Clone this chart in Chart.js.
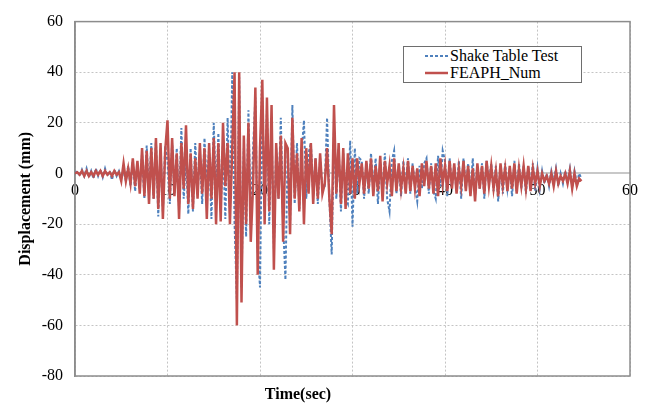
<!DOCTYPE html>
<html>
<head>
<meta charset="utf-8">
<script src="https://cdn.jsdelivr.net/npm/chart.js@4.4.1/dist/chart.umd.min.js"></script>
<style>
html, body { margin: 0; background: #fff; }
#wrap { position: relative; width: 650px; height: 410px; }
#legend { position: absolute; left: 403px; top: 46px; width: 179px; height: 37px; box-sizing: border-box;
          border: 1px solid #6e6e6e; background: #fff; font-family: "Liberation Serif", serif; }
#legend .row { display: flex; align-items: center; height: 17px; font-size: 16px; color: #000; white-space: nowrap; }
#legend svg { margin-left: 21px; margin-right: 2px; }
#xtitle { position: absolute; left: 238px; width: 120px; top: 385px; text-align: center; font-weight: bold;
          font-size: 16px; color: #000; font-family: "Liberation Serif", serif; }
</style>
</head>
<body>
<div id="wrap">
    <canvas id="chart" width="650" height="410"></canvas>
    <div id="legend"></div>
    <div id="xtitle">Time(sec)</div>
</div>
<script>
// Displacement time history: shake table record vs FEAPH numerical model.
// Both series are sampled every DT seconds starting at t = 0.
const DT = 0.25;
const X_TICKS = [0, 10, 20, 30, 40, 50, 60];
const Y_TICKS = [-80, -60, -40, -20, 0, 20, 40, 60];

const SERIES_NAMES = ['Shake Table Test', 'FEAPH_Num'];

// one line per second (4 samples)
const shake = [
    0, 1, -1, 1.5,     -1, 2, -1.5, 1,    -2, 2, -1, 1.5,    -1.5, 2, -1, 1,    -2.5, 1.5, -1, 1,
    -2, 1, -3, 3,      -5, 5, -7, 4,      -6, 8, -10, 11,    -8, 12, -10, 13,   -17, 10, -15, 11,
    5, -12, 12, -8,    10, -14, 18, -10,  6, -16, 10, -15,   12, -8, 8, -12,    14, -6, 10, -18,
    20, -10, 16, -15,  12, -18, 22, -16,  40, -20, -50, 38,  -45, 10, -25, 25,  -20, 10, 30, -30,
    -45, 30, -15, 25,  -20, 18, -30, 10,  -10, 22, -20, -42, 10, -20, 27, -12,  12, -14, 8, 21,
    -10, 8, 12, -8,    6, -12, 6, -6,     -5, 22, -10, -32,  18, -10, 10, -15,  8, -10, -12, 13,
    -21, 10, -8, 6,    5, -10, 4, -8,     8, -6, 6, -12,     4, -8, 8, -10,     -15, 5, 9, -8,
    3, -9, 5, -6,      6, -8, 4, -5,      -11, 3, -6, 4,     6, -8, 4, -7,      -10, 7, -5, 9,
    5, -9, 6, -5,      3, -7, 5, -10,     6, -6, 4, -8,      6, -9, 3, -6,      4, -10, 5, -4,
    4, -7, 3, -11,     3, -8, 4, -6,      2, -9, 5, -7,      4, -6, 3, -8,      3, -5, 4, -7,
    2, -6, 1, -4,      0, -5, 1, -3,      2, -5, 0, -4,      1, -3, 2, -5,      1, -4, 0, -2,
];

const feaph = [
    0, 0.5, -0.5, 1,   -1, 1, -1, 0.5,    -1, 1, -0.5, 1,    -1, 1, -0.5, 0.5,  -1, 1, -0.5, 0.5,
    -3, 4, -3, 2,      -4, 6, -5, 5,      -8, 10, -9, 9,     -12, 10, -10, 14,  -14, 12, -18, 9,
    21, -10, 14, -9,   8, -18, 12, -6,    19, -12, 8, -14,   6, -10, 12, -8,    10, -18, 12, -10,
    14, -20, 12, -19,  20, -5, 12, -20,   10, 40, -60, 40,   -51, 15, -20, 20,  -27, -5, 34, -40,
    10, 37, -20, 30,   -15, 27, -38, 12,  -10, 15, -27, 12,  10, -24, 22, -10,  8, -15, 14, -20,
    10, -8, 12, -12,   6, -10, 8, -8,     -4, 10, -10, -24,  27, -8, 12, -12,   10, -14, 8, -8,
    6, -10, 6, -4,     4, -8, 5, -6,      6, -9, 3, -7,      7, -11, 5, -4,     3, -9, 6, -7,
    4, -6, 2, -8,      5, -7, 3, -6,      2, -9, 4, -5,      5, -6, 3, -8,      4, -9, 6, -4,
    3, -7, 5, -6,      4, -8, 2, -5,      5, -7, 3, -9,      2, -11, 4, -6,     3, -8, 5, -5,
    3, -6, 1, -9,      4, -5, 2, -7,      3, -6, 4, -8,      2, -5, 3, -6,      3, -7, 2, -4,
    1, -5, 0, -3,      -1, -4, 0, -5,     1, -4, -1, -3,     0, -4, 1, -6,      0, -5, -2, -3,
];

const BLUE = '#4f81bd';
const RED = '#c0504d';
const FONT = '"Liberation Serif", "Times New Roman", serif';

const toPoints = arr => arr.map((v, i) => ({ x: i * DT, y: v }));

// gray box around the plot area (top/right/bottom edges)
const frame = {
    id: 'frame',
    beforeDatasetsDraw(chart) {
        const { ctx, chartArea: a } = chart;
        ctx.save();
        ctx.strokeStyle = '#8c8c8c';
        ctx.lineWidth = 1.5;
        ctx.strokeRect(a.left, a.top, a.right - a.left, a.bottom - a.top);
        ctx.restore();
    },
};

const datasets = [
    { label: SERIES_NAMES[0], data: toPoints(shake), borderColor: BLUE, borderWidth: 2,
      borderDash: [3, 2], pointRadius: 0, tension: 0, order: 2 },
    { label: SERIES_NAMES[1], data: toPoints(feaph), borderColor: RED, borderWidth: 2.5,
      pointRadius: 0, tension: 0, order: 1 },
];

new Chart(document.getElementById('chart'), {
    type: 'line',
    data: { datasets },
    options: {
        responsive: false,
        animation: false,
        devicePixelRatio: 1,
        layout: { padding: { left: 0, top: 14, right: 20, bottom: 34 } },
        plugins: { legend: { display: false }, tooltip: { enabled: false } },
        scales: {
            x: {
                type: 'linear', position: { y: 0 },
                min: X_TICKS[0], max: X_TICKS[X_TICKS.length - 1],
                afterBuildTicks: s => { s.ticks = X_TICKS.map(v => ({ value: v })); },
                ticks: { font: { family: FONT, size: 16 }, color: '#000', padding: 8, maxRotation: 0 },
                grid: { color: '#c4c4c4', lineWidth: 1, drawTicks: false },
                border: { color: '#c8c8c8', width: 2, dash: [2, 2] },
            },
            y: {
                min: Y_TICKS[0], max: Y_TICKS[Y_TICKS.length - 1],
                afterBuildTicks: s => { s.ticks = Y_TICKS.map(v => ({ value: v })); },
                afterFit: s => { s.width = 75; },
                ticks: { font: { family: FONT, size: 16 }, color: '#000', padding: 12 },
                grid: { color: '#c4c4c4', lineWidth: 1, drawTicks: false },
                border: { color: '#8c8c8c', width: 1.5, dash: [2, 2] },
                title: { display: true, text: 'Displacement (mm)', color: '#000',
                         font: { family: FONT, size: 16, weight: 'bold' }, padding: { top: 16, bottom: 0 } },
            },
        },
    },
    plugins: [frame],
});

// legend box drawn inside the plot, Excel style
const legendHost = document.getElementById('legend');
legendHost.innerHTML = datasets.map(d => `
    <div class="row">
        <svg width="23" height="4"><line x1="0" y1="2" x2="23" y2="2" stroke="${d.borderColor}"
             stroke-width="${d.borderWidth}" stroke-dasharray="${(d.borderDash || []).join(',')}"/></svg>
        <span>${d.label}</span>
    </div>`).join('');
</script>
</body>
</html>
